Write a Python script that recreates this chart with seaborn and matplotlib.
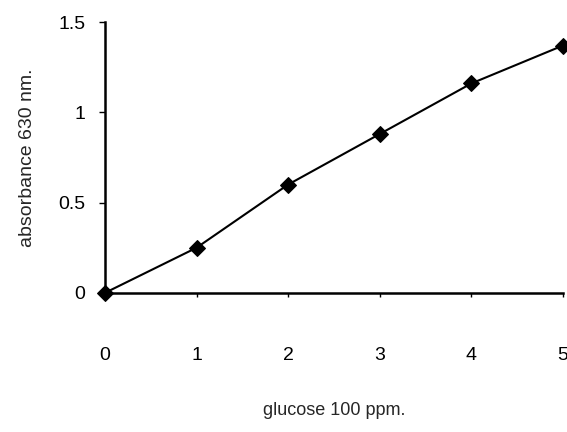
import matplotlib
matplotlib.use("Agg")
import matplotlib.pyplot as plt
import seaborn as sns
import pandas as pd

glucose = [0, 1, 2, 3, 4, 5]
absorbance = [0.0, 0.25, 0.60, 0.88, 1.16, 1.37]
x_ticks = [0, 1, 2, 3, 4, 5]
y_ticks = [0, 0.5, 1, 1.5]
y_tick_labels = ["0", "0.5", "1", "1.5"]

sns.set_style("ticks")
plt.rcParams['font.family'] = ['Liberation Sans', 'DejaVu Sans']

df = pd.DataFrame({"glucose": glucose, "absorbance": absorbance})

fig = plt.figure(figsize=(5.67, 4.32), dpi=100)
ax = fig.add_axes([0.185, 0.322, 0.808, 0.627])

sns.lineplot(data=df, x="glucose", y="absorbance", ax=ax, color="black",
             linewidth=1.5, marker="D", markersize=8, markeredgecolor="black",
             markerfacecolor="black", clip_on=False)

ax.set_xlim(0, 5)
ax.set_ylim(0, 1.5)
ax.set_xticks(x_ticks)
ax.set_yticks(y_ticks)
ax.set_yticklabels(y_tick_labels)
for s in ["top", "right"]:
    ax.spines[s].set_visible(False)
for s in ["left", "bottom"]:
    ax.spines[s].set_linewidth(1.8)
    ax.spines[s].set_color("black")

ax.tick_params(axis="x", direction="out", length=3, width=1, pad=36, labelsize=14, colors="black")
ax.tick_params(axis="y", direction="out", length=4, width=1, pad=10, labelsize=14, colors="black")

ax.set_xlabel("glucose 100 ppm.", fontsize=13, labelpad=27)
ax.set_ylabel("absorbance 630 nm.", fontsize=14, labelpad=16)

fig.savefig("out.png", dpi=100)
